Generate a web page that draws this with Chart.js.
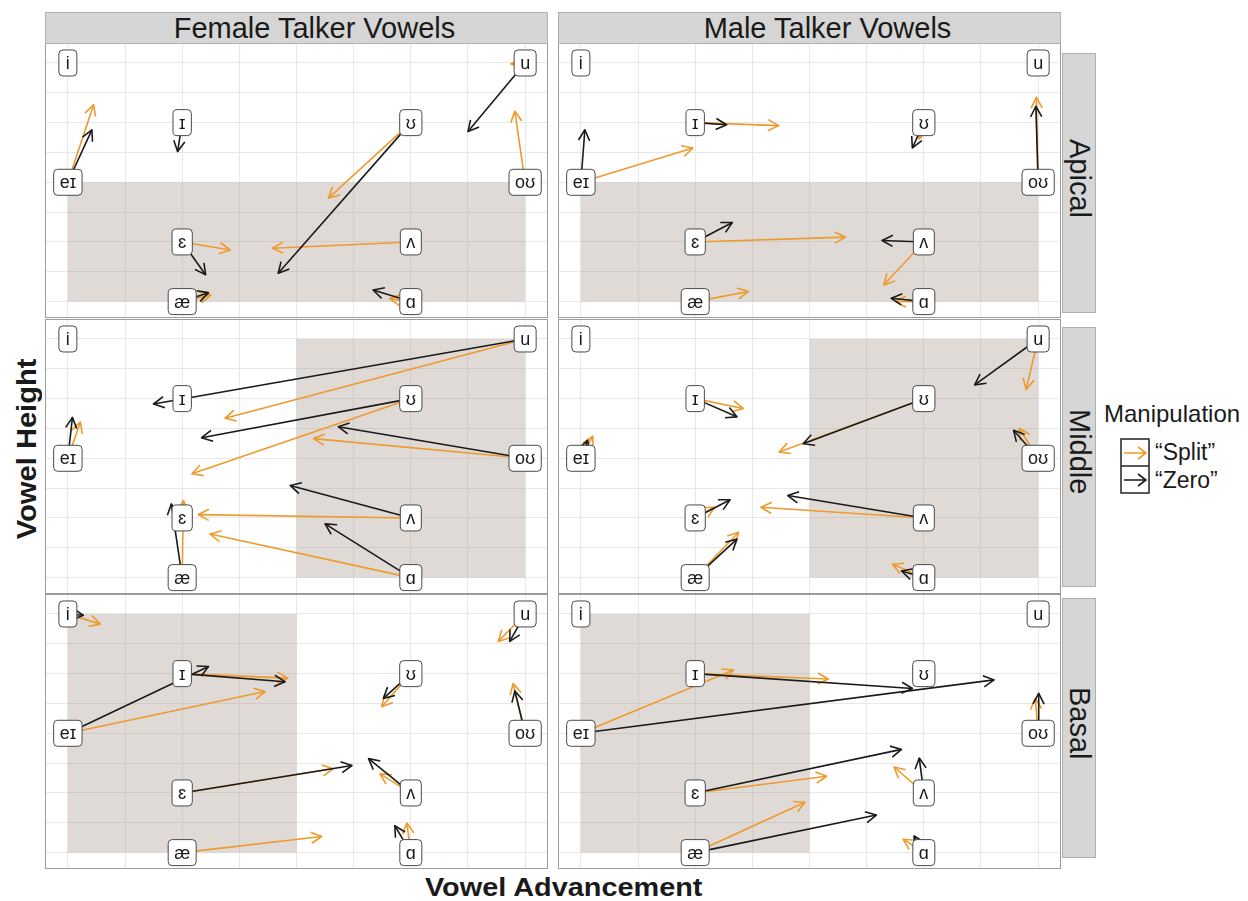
<!DOCTYPE html>
<html lang="en">
<head>
<meta charset="UTF-8">
<title>Vowel shifts by manipulation</title>
<script src="https://cdn.jsdelivr.net/npm/chart.js"></script>
<style>
  body {
    margin: 0;
    width: 1248px;
    height: 901px;
    position: relative;
    overflow: hidden;
    background: #fff;
    font-family: 'Liberation Sans', Arial, sans-serif;
    color: #1a1a1a;
  }
  .panel { position: absolute; }
  .panel canvas { display: block; }
  .panel::after {
    content: '';
    position: absolute;
    inset: 0;
    border: 1.5px solid #9c9c9c;
    pointer-events: none;
  }
  .strip {
    position: absolute;
    box-sizing: border-box;
    background: #d6d6d6;
    border: 1px solid #b0b0b0;
    display: flex;
    align-items: center;
    justify-content: center;
    font-size: 29px;
    white-space: nowrap;
  }
  .strip.top { padding-left: 36px; }
  .strip.side { writing-mode: vertical-rl; padding-bottom: 10px; }
  .axis-title {
    position: absolute;
    font-weight: bold;
    font-size: 26px;
    white-space: nowrap;
  }
  #ytitle {
    left: 11px;
    top: 362px;
    writing-mode: vertical-rl;
    transform: rotate(180deg) scaleY(1.04);
    font-size: 28px;
  }
  #xtitle { left: 425px; top: 872px; transform: scaleX(1.11); transform-origin: left center; }
  #legend { position: absolute; left: 1104px; top: 401px; }
  #legend .title { font-size: 24px; line-height: 26px; }
  #legend .keys { position: absolute; left: 16px; top: 37px; }
  #legend .row { display: flex; align-items: center; height: 28px; }
  #legend .row svg { display: block; }
  #legend .row span { font-size: 23px; margin-left: 5px; }
</style>
</head>
<body>

<div id="ytitle" class="axis-title">Vowel Height</div>
<div id="xtitle" class="axis-title">Vowel Advancement</div>

<div id="legend">
  <div class="title">Manipulation</div>
  <div class="keys">
    <div class="row">
      <svg width="30" height="28"><rect x="1" y="1" width="28" height="27" fill="#fff" stroke="#222" stroke-width="1.5"/>
        <path d="M4 15 H26 M18 9 L26 15 L18 21" fill="none" stroke="#EE9A2C" stroke-width="1.6"/></svg>
      <span>“Split”</span>
    </div>
    <div class="row">
      <svg width="30" height="28"><rect x="1" y="0" width="28" height="27" fill="#fff" stroke="#222" stroke-width="1.5"/>
        <path d="M4 14 H26 M18 8 L26 14 L18 20" fill="none" stroke="#1a1a1a" stroke-width="1.6"/></svg>
      <span>“Zero”</span>
    </div>
  </div>
</div>

<script>
// vowel positions on the advancement (x) / height (y) grid
const vowels = ['i', 'ɪ', 'eɪ', 'ɛ', 'æ', 'u', 'ʊ', 'oʊ', 'ʌ', 'ɑ'];
const vowelX = [0, 2, 0, 2, 2, 8, 6, 8, 6, 6];
const vowelY = [8, 6, 4, 2, 0, 8, 6, 4, 2, 0];

const talkers = ['Female Talker Vowels', 'Male Talker Vowels'];
const places = ['Apical', 'Middle', 'Basal'];

// shaded region for each place: [xmin, xmax, ymin, ymax]
const shadeApical = [0, 8, 0, 4];
const shadeMiddle = [4, 8, 0, 8];
const shadeBasal = [0, 4, 0, 8];

// arrow tips, one per vowel (same order as vowels); null = no visible shift
const femaleApicalSplit = [null, null, [0.45, 6.6], [2.84, 1.73], [2.5, 0.22], [7.75, 7.97], [4.56, 3.47], [7.82, 6.38], [3.58, 1.79], [5.63, 0.1]];
const femaleApicalZero = [[-0.15, 7.95], [1.92, 5.03], [0.42, 5.76], [2.41, 0.9], [2.46, 0.3], [7.0, 5.7], [3.68, 0.95], null, null, [5.34, 0.39]];

const maleApicalSplit = [null, [3.46, 5.9], [1.96, 5.15], [4.63, 2.16], [2.93, 0.34], null, [5.92, 5.45], [7.97, 6.85], [5.3, 0.56], [5.5, 0.0]];
const maleApicalZero = [null, [2.55, 5.93], [0.07, 5.76], [2.65, 2.65], null, null, [5.8, 5.15], [7.96, 6.55], [5.27, 2.05], [5.43, 0.11]];

const femaleMiddleSplit = [null, null, [0.22, 5.22], null, [2.02, 2.58], [2.75, 5.34], [2.17, 3.48], [4.3, 4.66], [2.28, 2.11], [2.49, 1.46]];
const femaleMiddleZero = [null, null, [0.08, 5.37], null, [1.81, 2.47], [1.5, 5.82], [2.34, 4.69], [4.73, 5.06], [3.89, 3.09], [4.5, 1.8]];

const maleMiddleSplit = [null, [2.84, 5.67], [0.21, 4.74], [2.34, 2.36], [2.76, 1.52], [7.79, 6.31], [3.47, 4.21], [7.67, 5.0], [3.15, 2.36], [5.45, 0.45]];
const maleMiddleZero = [null, [2.73, 5.39], [0.12, 4.6], [2.61, 2.61], [2.73, 1.29], [6.89, 6.46], [3.89, 4.49], [7.57, 4.94], [3.62, 2.75], [5.61, 0.22]];

const femaleBasalSplit = [[0.57, 7.66], [3.85, 5.85], [3.45, 5.4], [4.64, 2.81], [4.44, 0.54], [7.53, 7.08], [5.49, 4.89], [7.79, 5.67], [5.46, 2.64], [5.93, 0.99]];
const femaleBasalZero = [[0.27, 7.96], [3.8, 5.73], [2.46, 6.24], [4.97, 2.92], null, [7.73, 7.08], [5.52, 5.17], [7.82, 5.42], [5.26, 3.15], [5.72, 0.9]];

const maleBasalSplit = [null, [4.33, 5.82], [2.67, 6.12], [4.3, 2.56], [3.92, 1.69], null, null, [7.95, 5.17], [5.48, 2.87], [5.64, 0.45]];
const maleBasalZero = [null, [5.8, 5.5], [7.23, 5.79], [5.61, 3.46], [5.17, 1.26], null, null, [8.01, 5.34], [5.92, 3.17], [5.83, 0.56]];

const SPLIT = '#EE9A2C';
const ZERO = '#1a1a1a';

const panelLeft = [45, 558];
const panelTop = [43, 319, 594];
const panelW = 503, panelH = 275;

const panels = [
  { row: 0, col: 0, shade: shadeApical, split: femaleApicalSplit, zero: femaleApicalZero },
  { row: 0, col: 1, shade: shadeApical, split: maleApicalSplit, zero: maleApicalZero },
  { row: 1, col: 0, shade: shadeMiddle, split: femaleMiddleSplit, zero: femaleMiddleZero },
  { row: 1, col: 1, shade: shadeMiddle, split: maleMiddleSplit, zero: maleMiddleZero },
  { row: 2, col: 0, shade: shadeBasal, split: femaleBasalSplit, zero: femaleBasalZero },
  { row: 2, col: 1, shade: shadeBasal, split: maleBasalSplit, zero: maleBasalZero }
];

// shaded box underneath, open arrowheads on each segment, vowel labels on top
const vowelPanel = {
  id: 'vowelPanel',
  beforeDatasetsDraw(chart, args, opts) {
    const { ctx, scales: { x, y } } = chart;
    const [x0, x1, y0, y1] = opts.shade;
    const left = x.getPixelForValue(x0), right = x.getPixelForValue(x1);
    const top = y.getPixelForValue(y1), bottom = y.getPixelForValue(y0);
    ctx.save();
    ctx.fillStyle = 'rgba(168, 152, 145, 0.36)';
    ctx.fillRect(left, top, right - left, bottom - top);
    ctx.restore();
  },
  afterDatasetDraw(chart, args) {
    const pts = args.meta.data;
    if (pts.length < 2) return;
    const ds = chart.data.datasets[args.index];
    const a = pts[0], b = pts[1];
    const ang = Math.atan2(b.y - a.y, b.x - a.x);
    const len = 12, spread = Math.PI / 6.5;
    const ctx = chart.ctx;
    ctx.save();
    ctx.strokeStyle = ds.borderColor;
    ctx.lineWidth = ds.borderWidth;
    ctx.lineJoin = 'round';
    ctx.beginPath();
    ctx.moveTo(b.x - len * Math.cos(ang - spread), b.y - len * Math.sin(ang - spread));
    ctx.lineTo(b.x, b.y);
    ctx.lineTo(b.x - len * Math.cos(ang + spread), b.y - len * Math.sin(ang + spread));
    ctx.stroke();
    ctx.restore();
  },
  afterDatasetsDraw(chart) {
    const { ctx, scales: { x, y } } = chart;
    ctx.save();
    ctx.font = '18px "Liberation Sans", "DejaVu Sans", sans-serif';
    ctx.textAlign = 'center';
    ctx.textBaseline = 'middle';
    vowels.forEach((v, i) => {
      const px = x.getPixelForValue(vowelX[i]);
      const py = y.getPixelForValue(vowelY[i]);
      const w = Math.max(ctx.measureText(v).width + 12, 18);
      const h = 26;
      ctx.beginPath();
      ctx.roundRect(px - w / 2, py - h / 2, w, h, 4);
      ctx.fillStyle = '#fff';
      ctx.fill();
      ctx.lineWidth = 1;
      ctx.strokeStyle = '#4a4a4a';
      ctx.stroke();
      ctx.fillStyle = '#1a1a1a';
      ctx.fillText(v, px, py + 1);
    });
    ctx.restore();
  }
};

function arrowSets(tips, colour, order) {
  const sets = [];
  tips.forEach((t, i) => {
    if (!t) return;
    sets.push({
      label: vowels[i],
      data: [{ x: vowelX[i], y: vowelY[i] }, { x: t[0], y: t[1] }],
      showLine: true,
      borderColor: colour,
      borderWidth: 1.6,
      pointRadius: 0,
      order: order
    });
  });
  return sets;
}

const gridScale = (min, max) => ({
  type: 'linear',
  min: min,
  max: max,
  ticks: { display: false, stepSize: 1, includeBounds: false },
  grid: { color: '#e8e8e8', lineWidth: 1, drawTicks: false },
  border: { display: false }
});

panels.forEach(p => {
  const wrap = document.createElement('div');
  wrap.className = 'panel';
  wrap.style.left = panelLeft[p.col] + 'px';
  wrap.style.top = panelTop[p.row] + 'px';
  wrap.style.width = panelW + 'px';
  wrap.style.height = panelH + 'px';
  const canvas = document.createElement('canvas');
  canvas.width = panelW;
  canvas.height = panelH;
  wrap.appendChild(canvas);
  document.body.appendChild(wrap);

  new Chart(canvas.getContext('2d'), {
    type: 'scatter',
    data: {
      datasets: arrowSets(p.zero, ZERO, 0).concat(arrowSets(p.split, SPLIT, 1))
    },
    options: {
      responsive: false,
      animation: false,
      events: [],
      devicePixelRatio: 1,
      layout: { padding: 0, autoPadding: false },
      scales: {
        x: gridScale(-0.4, 8.4),
        y: gridScale(-0.55, 8.67)
      },
      plugins: {
        legend: { display: false },
        tooltip: { enabled: false },
        vowelPanel: { shade: p.shade }
      }
    },
    plugins: [vowelPanel]
  });
});

// facet strips
talkers.forEach((t, c) => {
  const s = document.createElement('div');
  s.className = 'strip top';
  s.textContent = t;
  s.style.left = panelLeft[c] + 'px';
  s.style.top = '12px';
  s.style.width = panelW + 'px';
  s.style.height = '32px';
  document.body.appendChild(s);
});

const sideTop = [53, 327, 598];
places.forEach((name, r) => {
  const s = document.createElement('div');
  s.className = 'strip side';
  s.textContent = name;
  s.style.left = '1062px';
  s.style.top = sideTop[r] + 'px';
  s.style.width = '34px';
  s.style.height = '260px';
  document.body.appendChild(s);
});
</script>

</body>
</html>
